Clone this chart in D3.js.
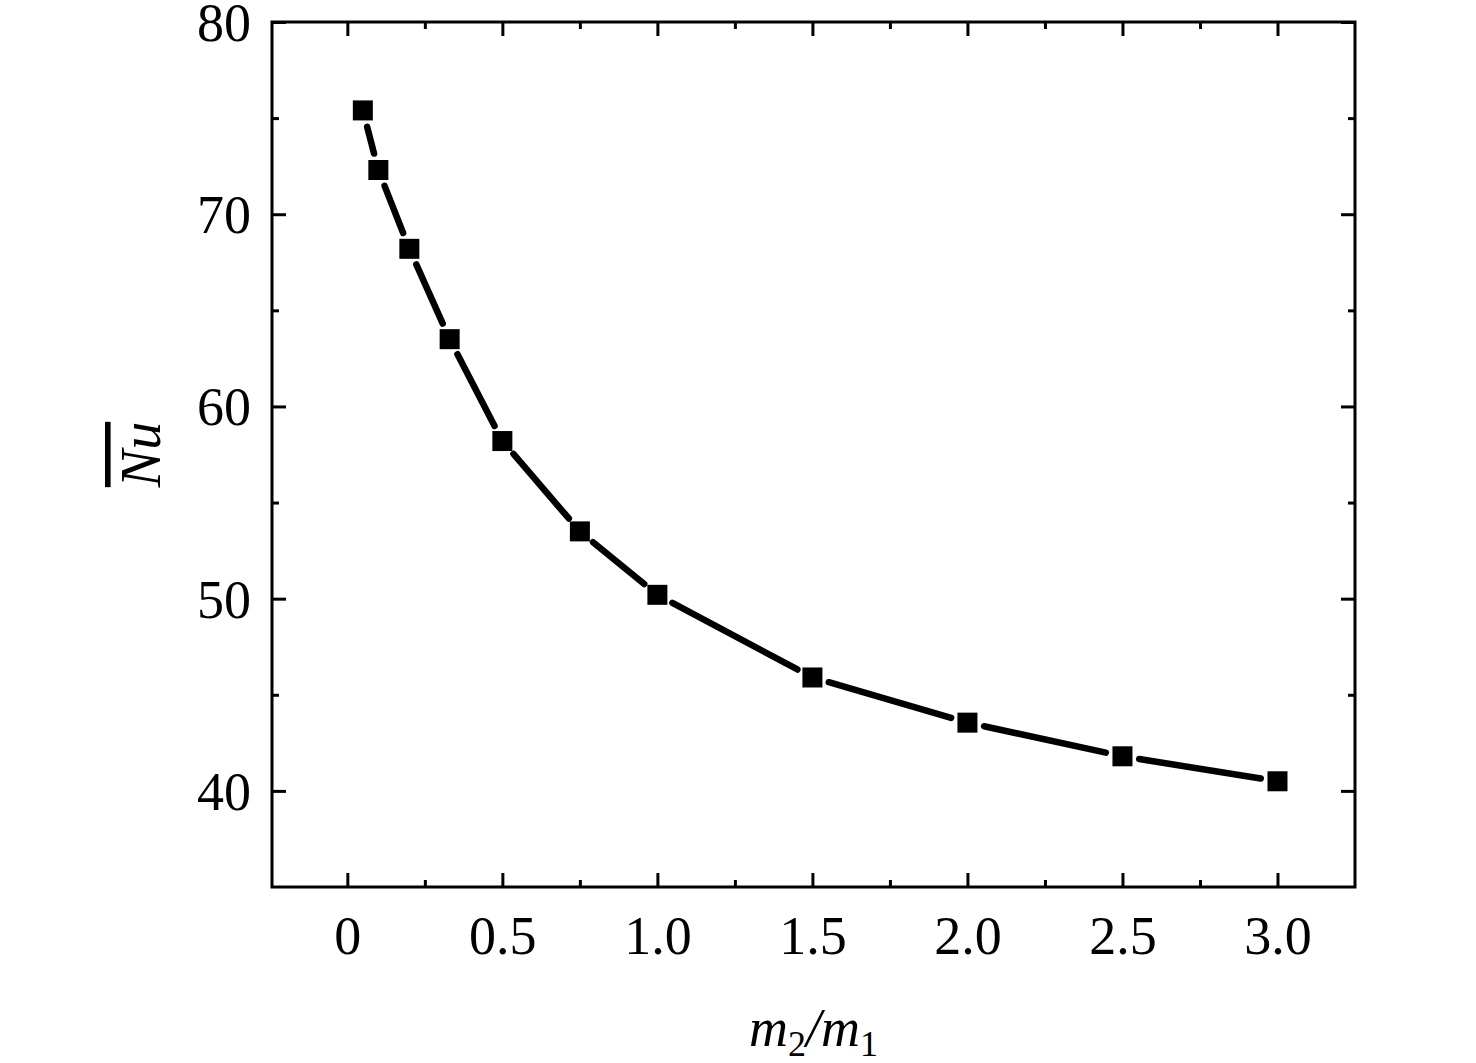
<!DOCTYPE html>
<html>
<head>
<meta charset="utf-8">
<script src="https://cdn.jsdelivr.net/npm/d3@7"></script>
<style>
  body { margin: 0; background: #fff; }
  text { font-family: "Liberation Serif", "Times New Roman", serif; fill: #000; }
  .frame { fill: none; stroke: #000; stroke-width: 3; }
  .tick line { stroke: #000; stroke-width: 3; }
  .domain { display: none; }
</style>
</head>
<body>
<svg id="chart"></svg>
<script>
var ratio = [0.05, 0.1, 0.2, 0.33, 0.5, 0.75, 1.0, 1.5, 2.0, 2.5, 3.0];
var nu = [75.4, 72.3, 68.2, 63.5, 58.2, 53.5, 50.2, 45.9, 43.55, 41.8, 40.5];
var xMajor = [0, 0.5, 1.0, 1.5, 2.0, 2.5, 3.0];
var xTickLabels = ["0", "0.5", "1.0", "1.5", "2.0", "2.5", "3.0"];
var xMinor = [0.25, 0.75, 1.25, 1.75, 2.25, 2.75];
var yMajor = [40, 50, 60, 70, 80];
var yMinor = [45, 55, 65, 75];

var margin = {top: 22, right: 121, bottom: 176, left: 272},
	width = 1476 - margin.left - margin.right,
	height = 1063 - margin.top - margin.bottom;

var svg = d3.select("#chart")
	.attr("width", 1476)
	.attr("height", 1063)
  .append("g")
	.attr("transform", "translate(" + margin.left + "," + margin.top + ")");

var x = d3.scaleLinear().domain([-0.243, 3.25]).range([0, width]);
var y = d3.scaleLinear().domain([35, 80]).range([height, 0]);

var majorLen = 14, minorLen = 7;

// inward ticks on all four sides
function ticks(axisFn, scale, values, len, fmt, tr) {
	var g = svg.append("g")
		.attr("class", "axis")
		.attr("transform", tr || null)
		.call(axisFn(scale).tickValues(values).tickSize(-len).tickSizeOuter(0)
			.tickFormat(fmt || ""));
	return g;
}

var bx = ticks(d3.axisBottom, x, xMajor, majorLen, function (d, i) { return xTickLabels[i]; }, "translate(0," + height + ")");
bx.selectAll("text").style("font-size", "54px").attr("dy", null).attr("y", 67);
ticks(d3.axisBottom, x, xMinor, minorLen, null, "translate(0," + height + ")");
ticks(d3.axisTop, x, xMajor, majorLen, null);
ticks(d3.axisTop, x, xMinor, minorLen, null);

var ly = ticks(d3.axisLeft, y, yMajor, majorLen, d3.format("d"));
ly.selectAll("text").style("font-size", "54px").attr("x", -21).attr("dy", "0.34em");
ticks(d3.axisLeft, y, yMinor, minorLen, null);
ticks(d3.axisRight, y, yMajor, majorLen, null, "translate(" + width + ",0)");
ticks(d3.axisRight, y, yMinor, minorLen, null, "translate(" + width + ",0)");

svg.append("rect")
	.attr("class", "frame")
	.attr("x", 0).attr("y", 0)
	.attr("width", width).attr("height", height);

// connecting segments, stopped short of each marker
var gap = 17;
var pts = ratio.map(function (d, i) { return [x(d), y(nu[i])]; });
for (var i = 0; i < pts.length - 1; i++) {
	var a = pts[i], b = pts[i + 1];
	var dx = b[0] - a[0], dy = b[1] - a[1];
	var len = Math.sqrt(dx * dx + dy * dy);
	var ux = dx / len, uy = dy / len;
	svg.append("line")
		.attr("x1", a[0] + ux * gap).attr("y1", a[1] + uy * gap)
		.attr("x2", b[0] - ux * gap).attr("y2", b[1] - uy * gap)
		.attr("stroke", "#000")
		.attr("stroke-width", 6.5)
		.attr("stroke-linecap", "round");
}

var size = 20;
svg.selectAll(".marker")
	.data(ratio).enter().append("rect")
		.attr("class", "marker")
		.attr("x", function (d) { return x(d) - size / 2; })
		.attr("y", function (d, i) { return y(nu[i]) - size / 2; })
		.attr("width", size)
		.attr("height", size)
		.attr("fill", "#000");

// x axis title: m2/m1
var xt = svg.append("text")
	.attr("x", width / 2)
	.attr("y", height + 159)
	.attr("text-anchor", "middle")
	.style("font-size", "54px");
xt.append("tspan").style("font-style", "italic").text("m");
xt.append("tspan").attr("dy", 10).style("font-size", "36px").text("2");
xt.append("tspan").attr("dy", -10).style("font-style", "italic").text("/m");
xt.append("tspan").attr("dy", 10).style("font-size", "36px").text("1");

// y axis title: Nu with overline
svg.append("text")
	.attr("transform", "translate(-112," + (height / 2) + ") rotate(-90)")
	.attr("text-anchor", "middle")
	.style("font-size", "56px")
	.style("font-style", "italic")
	.style("text-decoration", "overline")
	.text("Nu");
</script>
</body>
</html>
